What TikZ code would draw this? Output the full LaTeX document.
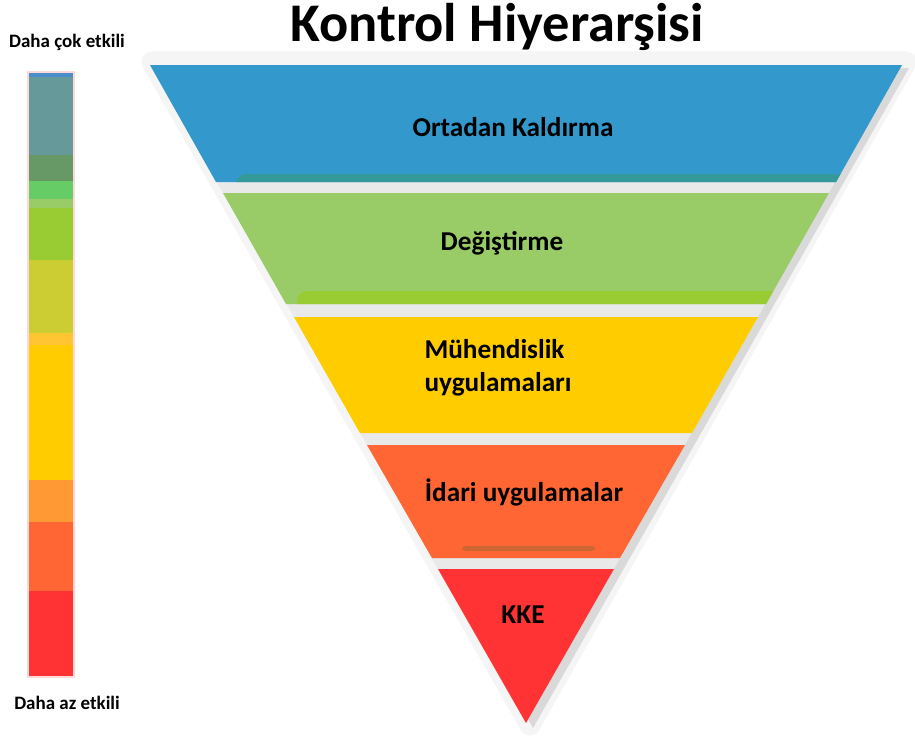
\documentclass[tikz,border=0pt]{standalone}
\usepackage{fontspec}
\setmainfont{Carlito}
\definecolor{elimc}{HTML}{3399CC}
\definecolor{elimd}{HTML}{339999}
\definecolor{substc}{HTML}{99CC66}
\definecolor{substd}{HTML}{99CC33}
\definecolor{engc}{HTML}{FFCC00}
\definecolor{admc}{HTML}{FF6633}
\definecolor{admd}{HTML}{CC6633}
\definecolor{ppec}{HTML}{FF3333}
\definecolor{barA}{HTML}{4A8FCC}
\definecolor{barB}{HTML}{669999}
\definecolor{barC}{HTML}{669966}
\definecolor{barD}{HTML}{66CC66}
\definecolor{barE}{HTML}{99CC66}
\definecolor{barF}{HTML}{99CC33}
\definecolor{barG}{HTML}{CCCC33}
\definecolor{barH}{HTML}{FFC533}
\definecolor{barI}{HTML}{FFCC00}
\definecolor{barJ}{HTML}{FF9933}
\definecolor{barK}{HTML}{FF6633}
\definecolor{barL}{HTML}{FF3333}
\begin{document}
\begin{tikzpicture}[x=0.02cm,y=-0.02cm,
    lbl/.style={font=\fontsize{15.5}{19}\selectfont\bfseries},
    side/.style={font=\fontsize{10.8}{13}\selectfont\bfseries}]
  \useasboundingbox (0,0) rectangle (915,738);
  % scale bar on the left
  \foreach \ya/\yb/\c in {72/77/barA,77/155/barB,155/181/barC,181/199/barD,199/208/barE,
      208/260/barF,260/333/barG,333/345/barH,345/480/barI,480/522/barJ,522/591/barK,591/677/barL}
    \fill[\c] (28,\ya) rectangle (74,\yb);
  \draw[red!15,line width=0.6] (28,72) rectangle (74,677);
  \node[side] (more) at (67,42) {Daha çok etkili};
  \node[side] (less) at (67,703) {Daha az etkili};
  \node[font=\fontsize{31}{36}\selectfont\bfseries] (title) at (497,27) {Kontrol Hiyerarşisi};
  % shadow and gaps
  \draw[gray!8,line width=12,line join=round,fill=gray!8] (152,62)--(906,62)--(530,725)--cycle;
  \fill[gray!30] (157,68)--(909,68)--(533,728)--cycle;
  \fill[gray!17] (150,65)--(902,65)--(526,723)--cycle;
  % layers
  \fill[elimc] (150,65)--(902,65)--(836,182)--(216,182)--cycle;
  \begin{scope}
    \clip (150,65)--(902,65)--(836,182)--(216,182)--cycle;
    \fill[elimd,rounded corners=6] (236,174) rectangle (910,192);
  \end{scope}
  \fill[substc] (223,193)--(829,193)--(766,304)--(286,304)--cycle;
  \begin{scope}
    \clip (223,193)--(829,193)--(766,304)--(286,304)--cycle;
    \fill[substd,rounded corners=6] (297,291) rectangle (830,312);
  \end{scope}
  \fill[engc] (294,317)--(758,317)--(692,433)--(360,433)--cycle;
  \fill[admc] (367,445)--(685,445)--(620,558)--(432,558)--cycle;
  \fill[admd,rounded corners=2] (462,546) rectangle (595,551);
  \fill[ppec] (438,569)--(614,569)--(526,723)--cycle;
  % labels
  \node[lbl] (elim) at (513,127) {Ortadan Kaldırma};
  \node[lbl] (subst) at (502,243) {Değiştirme};
  \node[lbl,align=left] (eng) at (498,368) {Mühendislik\\uygulamaları};
  \node[lbl] (adm) at (524,492) {İdari uygulamalar};
  \node[lbl] (ppe) at (523,615) {KKE};
\end{tikzpicture}
\end{document}
